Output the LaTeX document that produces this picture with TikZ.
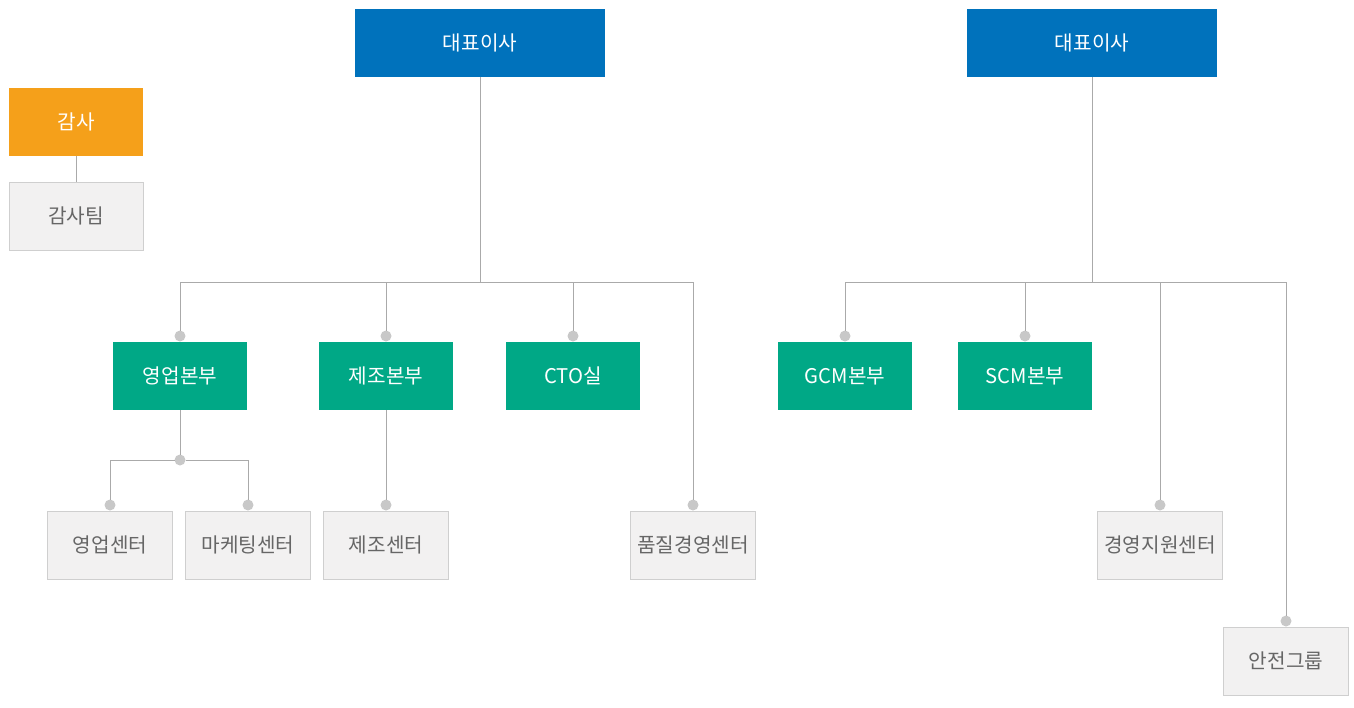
\documentclass[tikz,border=0pt]{standalone}
\usepackage{fontspec}
\setmainfont{Noto Sans CJK KR}
\usetikzlibrary{positioning}

\definecolor{ceoblue}{HTML}{0072BC}
\definecolor{auditorange}{HTML}{F5A01A}
\definecolor{divgreen}{HTML}{00A886}
\definecolor{teamgray}{HTML}{F2F1F1}
\definecolor{teamline}{HTML}{CFCFCF}
\definecolor{linkgray}{HTML}{AAAAAA}
\definecolor{dotgray}{HTML}{C8C8C8}
\definecolor{textgray}{HTML}{666666}

\begin{document}
\begin{tikzpicture}[x=0.02cm,y=-0.02cm,font=\fontsize{11.5}{13}\selectfont,semithick]
  \tikzstyle{every node}=[inner sep=0pt,outer sep=0pt]
  \tikzstyle{ceo}=[fill=ceoblue,text=white,minimum width=5cm,minimum height=1.36cm]
  \tikzstyle{audit}=[fill=auditorange,text=white,minimum width=2.68cm,minimum height=1.36cm]
  \tikzstyle{division}=[fill=divgreen,text=white,minimum width=2.68cm,minimum height=1.36cm]
  \tikzstyle{team}=[fill=teamgray,draw=teamline,thin,text=textgray,minimum width=2.5cm,minimum height=1.36cm]
  \tikzstyle{dot}=[circle,fill=dotgray,minimum size=0.22cm]
  \tikzstyle{link}=[draw=linkgray,thin]

  \useasboundingbox (0,0) rectangle (1354,707);

  % top level
  \node[ceo]   (ceoA)    at (480,43)   {대표이사};
  \node[ceo]   (ceoB)    at (1092,43)  {대표이사};
  \node[audit] (audit)   at (76,122)   {감사};
  \node[team,minimum width=2.68cm] (auditteam) at (76,216) {감사팀};

  % divisions
  \node[division] (sales)  at (180,376) {영업본부};
  \node[division] (manu)   at (386,376) {제조본부};
  \node[division] (cto)    at (573,376) {CTO실};
  \node[division] (gcm)    at (845,376) {GCM본부};
  \node[division] (scm)    at (1025,376) {SCM본부};

  % centers
  \node[team] (salescen)  at (110,545)  {영업센터};
  \node[team] (marketcen) at (248,545)  {마케팅센터};
  \node[team] (manucen)   at (386,545)  {제조센터};
  \node[team] (qualcen)   at (693,545)  {품질경영센터};
  \node[team] (mgmtcen)   at (1160,545) {경영지원센터};
  \node[team] (safety)    at (1286,661) {안전그룹};

  % junctions
  \coordinate (busA) at (480,282);
  \coordinate (busB) at (1092,282);
  \node[dot] (dsales)  at (180,336)  {};
  \node[dot] (dmanu)   at (386,336)  {};
  \node[dot] (dcto)    at (573,336)  {};
  \node[dot] (dqual)   at (693,505)  {};
  \node[dot] (dgcm)    at (845,336)  {};
  \node[dot] (dscm)    at (1025,336) {};
  \node[dot] (dmgmt)   at (1160,505) {};
  \node[dot] (dsafety) at (1286,621) {};
  \node[dot] (dsplit)  at (180,460)  {};
  \node[dot] (dsalescen)  at (110,505) {};
  \node[dot] (dmarketcen) at (248,505) {};
  \node[dot] (dmanucen)   at (386,505) {};

  \path[link]
  (audit) edge (auditteam)
  (ceoA.south) edge (busA)
  (ceoB.south) edge (busB)
  (sales.south) edge (dsplit)
  (manu.south) edge (dmanucen.north);
  \draw[link] (busA) -| (dsales.north);
  \draw[link] (busA) -| (dmanu.north);
  \draw[link] (busA) -| (dcto.north);
  \draw[link] (busA) -| (dqual.north);
  \draw[link] (busB) -| (dgcm.north);
  \draw[link] (busB) -| (dscm.north);
  \draw[link] (busB) -| (dmgmt.north);
  \draw[link] (busB) -| (dsafety.north);
  \draw[link] (dsplit) -| (dsalescen.north);
  \draw[link] (dsplit) -| (dmarketcen.north);
\end{tikzpicture}
\end{document}
